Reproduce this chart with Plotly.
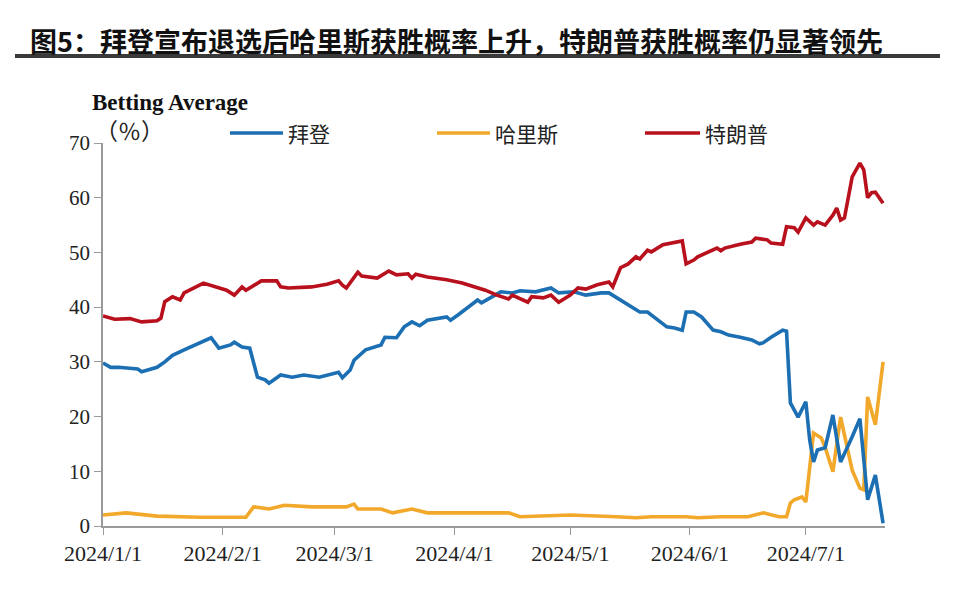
import plotly.graph_objects as go

# ---------------- data ----------------
trump_dates = ["2024-01-01","2024-01-04","2024-01-08","2024-01-11","2024-01-15","2024-01-16","2024-01-17","2024-01-19","2024-01-21","2024-01-22",
               "2024-01-27","2024-01-30","2024-02-02","2024-02-04","2024-02-06","2024-02-07","2024-02-11","2024-02-15","2024-02-16","2024-02-18",
               "2024-02-24","2024-02-28","2024-03-02","2024-03-03","2024-03-04","2024-03-07","2024-03-08","2024-03-12","2024-03-15","2024-03-17",
               "2024-03-20","2024-03-21","2024-03-22","2024-03-25","2024-03-30","2024-04-03","2024-04-07","2024-04-09","2024-04-12","2024-04-15",
               "2024-04-16","2024-04-20","2024-04-21","2024-04-24","2024-04-26","2024-04-28","2024-05-01","2024-05-03","2024-05-05","2024-05-08",
               "2024-05-11","2024-05-12","2024-05-14","2024-05-16","2024-05-18","2024-05-19","2024-05-21","2024-05-22","2024-05-25","2024-05-30",
               "2024-05-31","2024-06-02","2024-06-03","2024-06-06","2024-06-08","2024-06-09","2024-06-10","2024-06-14","2024-06-17","2024-06-18",
               "2024-06-21","2024-06-22","2024-06-25","2024-06-26","2024-06-28","2024-06-29","2024-07-01","2024-07-03","2024-07-04","2024-07-06",
               "2024-07-08","2024-07-09","2024-07-10","2024-07-11","2024-07-13","2024-07-15","2024-07-16","2024-07-17","2024-07-18","2024-07-19",
               "2024-07-21"]
trump_vals = [38.4,37.8,37.9,37.3,37.5,38.0,41.0,41.9,41.3,42.6,
              44.4,43.7,43.1,42.2,43.7,43.1,44.8,44.8,43.7,43.5,
              43.7,44.2,44.8,44.0,43.5,46.4,45.7,45.3,46.6,45.9,
              46.1,45.3,46.0,45.5,45.0,44.4,43.5,43.1,42.2,41.5,
              42.2,40.9,41.9,41.7,42.2,40.9,42.2,43.5,43.3,44.1,
              44.6,43.7,47.2,47.9,49.2,48.8,50.4,50.1,51.4,52.1,
              47.9,48.6,49.2,50.1,50.8,50.3,50.8,51.5,51.9,52.6,
              52.3,51.7,51.5,54.7,54.5,53.7,56.3,55.0,55.6,55.0,
              56.8,58.1,55.9,56.3,63.8,66.3,65.1,60.0,60.9,61.0,
              59.0]

biden_dates = ["2024-01-01","2024-01-03","2024-01-05","2024-01-07","2024-01-10","2024-01-11","2024-01-15","2024-01-17","2024-01-19","2024-01-22",
               "2024-01-25","2024-01-29","2024-01-31","2024-02-03","2024-02-04","2024-02-06","2024-02-08","2024-02-10","2024-02-12","2024-02-13",
               "2024-02-16","2024-02-19","2024-02-22","2024-02-26","2024-03-02","2024-03-03","2024-03-05","2024-03-06","2024-03-09","2024-03-13",
               "2024-03-14","2024-03-17","2024-03-19","2024-03-21","2024-03-23","2024-03-25","2024-03-30","2024-03-31","2024-04-02","2024-04-07",
               "2024-04-08","2024-04-13","2024-04-16","2024-04-18","2024-04-22","2024-04-26","2024-04-28","2024-05-02","2024-05-05","2024-05-09",
               "2024-05-11","2024-05-14","2024-05-19","2024-05-21","2024-05-23","2024-05-26","2024-05-28","2024-05-30","2024-05-31","2024-06-02",
               "2024-06-04","2024-06-07","2024-06-09","2024-06-11","2024-06-14","2024-06-17","2024-06-19","2024-06-20","2024-06-22","2024-06-25",
               "2024-06-26","2024-06-27","2024-06-29","2024-07-01","2024-07-02","2024-07-03","2024-07-04","2024-07-06","2024-07-08","2024-07-10",
               "2024-07-13","2024-07-15","2024-07-17","2024-07-19","2024-07-21"]
biden_vals = [29.8,29.0,29.0,28.9,28.7,28.2,29.0,30.0,31.2,32.2,
              33.1,34.4,32.5,33.1,33.6,32.7,32.5,27.2,26.7,26.1,
              27.6,27.2,27.6,27.2,28.1,27.1,28.5,30.3,32.2,33.1,
              34.5,34.4,36.4,37.3,36.6,37.6,38.2,37.6,38.6,41.3,
              40.8,42.8,42.6,43.0,42.8,43.5,42.6,42.8,42.2,42.6,
              42.6,41.3,39.1,39.1,38.0,36.4,36.2,35.8,39.1,39.1,
              38.2,35.8,35.5,34.9,34.5,34.0,33.3,33.5,34.5,35.8,
              35.6,22.5,19.9,22.7,15.7,11.7,13.9,14.3,20.3,11.7,
              16.3,19.6,4.8,9.3,0.5]

harris_dates = ["2024-01-01","2024-01-07","2024-01-15","2024-01-26","2024-02-07","2024-02-09","2024-02-13","2024-02-17","2024-02-24","2024-03-04",
                "2024-03-06","2024-03-07","2024-03-13","2024-03-16","2024-03-21","2024-03-25","2024-04-04","2024-04-15","2024-04-18","2024-05-01",
                "2024-05-13","2024-05-18","2024-05-22","2024-05-31","2024-06-03","2024-06-09","2024-06-16","2024-06-20","2024-06-24","2024-06-26",
                "2024-06-27","2024-06-28","2024-06-30","2024-07-01","2024-07-03","2024-07-05","2024-07-06","2024-07-08","2024-07-10","2024-07-13",
                "2024-07-15","2024-07-16","2024-07-17","2024-07-19","2024-07-21"]
harris_vals = [2.0,2.4,1.8,1.6,1.6,3.5,3.1,3.8,3.5,3.5,
               4.0,3.1,3.1,2.4,3.1,2.4,2.4,2.4,1.7,2.0,
               1.7,1.5,1.7,1.7,1.5,1.7,1.7,2.4,1.7,1.7,
               4.2,4.8,5.3,4.4,17.0,16.1,14.4,9.9,19.9,10.2,
               6.9,6.6,23.6,18.5,30.0]

series_names = ["拜登", "哈里斯", "特朗普"]
y_ticks = [0, 10, 20, 30, 40, 50, 60, 70]
x_ticks = ["2024-01-01","2024-02-01","2024-03-01","2024-04-01","2024-05-01","2024-06-01","2024-07-01"]

title_text = "图5：拜登宣布退选后哈里斯获胜概率上升，特朗普获胜概率仍显著领先"

# ---------------- figure ----------------
colors = {"拜登": "#1c6fb3", "哈里斯": "#f2a82a", "特朗普": "#b8101c"}
data = {"拜登": (biden_dates, biden_vals), "哈里斯": (harris_dates, harris_vals), "特朗普": (trump_dates, trump_vals)}

fig = go.Figure()
for name in ["哈里斯", "拜登", "特朗普"]:
    d, v = data[name]
    fig.add_trace(go.Scatter(x=d, y=v, mode="lines", name=name,
                             line=dict(color=colors[name], width=3.6), showlegend=False))

serif = "Liberation Serif, Times New Roman, serif"
cjk = "Noto Sans CJK SC, sans-serif"

# page has an 8px body offset; margins compensate so the plot sits at 103..885 x 143..526 on screen
fig.update_layout(
    width=966, height=596,
    margin=dict(l=95, r=89, t=135, b=78),
    paper_bgcolor="#ffffff", plot_bgcolor="#ffffff",
    showlegend=False,
    xaxis=dict(range=["2024-01-01", "2024-07-21 12:00"], tickvals=x_ticks, tickformat="%Y/%-m/%-d",
               showgrid=False, zeroline=False, showline=True, linecolor="#9a9a9a", linewidth=1.5,
               ticks="outside", ticklen=7, tickcolor="#9a9a9a",
               tickfont=dict(family=serif, size=22, color="#222")),
    yaxis=dict(range=[0, 70], tickvals=y_ticks, showgrid=False, zeroline=False,
               showline=True, linecolor="#9a9a9a", linewidth=1.5,
               ticks="outside", ticklen=7, tickcolor="#9a9a9a",
               tickfont=dict(family=serif, size=21, color="#222")),
)

W = 966 - 95 - 89
H = 596 - 135 - 78
def px(x):
    return (x - 103) / W
def py(y):
    return (526 - y) / H

# title and underline
fig.add_annotation(text="<b>" + title_text + "</b>", xref="paper", yref="paper",
                   x=px(28), y=py(40), xanchor="left", yanchor="middle", showarrow=False,
                   font=dict(family=cjk, size=27, color="#111"))
fig.add_shape(type="line", xref="paper", yref="paper", x0=px(15), x1=px(940), y0=py(56), y1=py(56),
              line=dict(color="#3a3a3a", width=4))

# axis title
fig.add_annotation(text="<b>Betting Average</b>", xref="paper", yref="paper",
                   x=px(90), y=py(102), xanchor="left", yanchor="middle", showarrow=False,
                   font=dict(family=serif, size=23, color="#111"))
fig.add_annotation(text="（％）", xref="paper", yref="paper",
                   x=px(93), y=py(130), xanchor="left", yanchor="middle", showarrow=False,
                   font=dict(family=cjk, size=23, color="#222"))

# manual legend
legend_pos = {"拜登": (230, 283), "哈里斯": (437, 490), "特朗普": (645, 700)}
for name in series_names:
    a, b = legend_pos[name]
    fig.add_shape(type="line", xref="paper", yref="paper", x0=px(a), x1=px(b), y0=py(133), y1=py(133),
                  line=dict(color=colors[name], width=3.5))
    fig.add_annotation(text=name, xref="paper", yref="paper", x=px(b + 3), y=py(133),
                       xanchor="left", yanchor="middle", showarrow=False,
                       font=dict(family=cjk, size=21, color="#222"))

fig.write_html("out.html")
